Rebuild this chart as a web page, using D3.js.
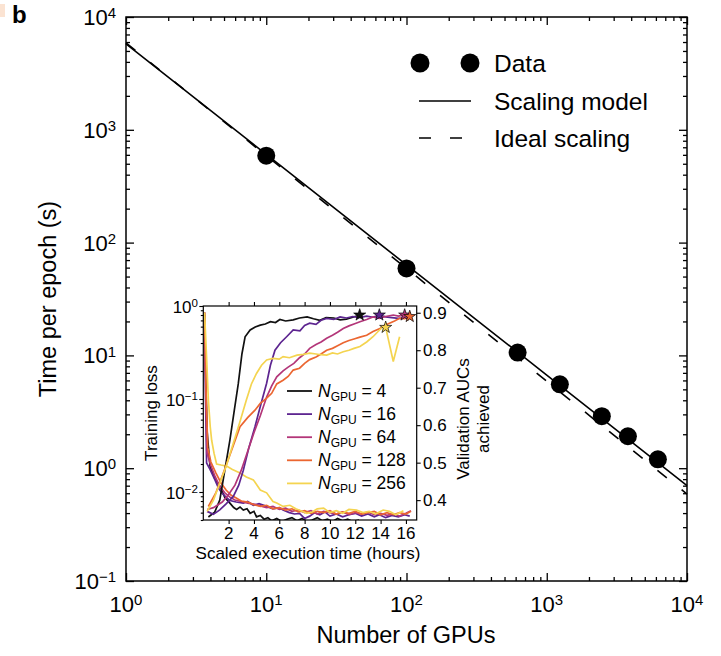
<!DOCTYPE html>
<html>
<head>
<meta charset="utf-8">
<script src="https://cdn.jsdelivr.net/npm/d3@7"></script>
<style>
body { margin: 0; background: #fff; }
svg { display: block; font-family: "Liberation Sans", Arial, sans-serif; }
</style>
</head>
<body>
<script>
// main panel: time per epoch vs number of GPUs
var gpus = [10, 100, 620, 1240, 2470, 3790, 6200];
var epochTime = [590, 59, 10.6, 5.54, 2.89, 1.92, 1.20];
var modelN = [1, 10, 100, 1000, 10000];
var modelT = [5770, 605, 63.5, 6.7, 0.70];
var idealN = [1, 10000];
var idealT = [5900, 0.59];
var mainDecades = [0.1, 1, 10, 100, 1000, 10000];

// inset: validation AUC and training loss vs scaled time (hours)
var gpuCounts = [4, 16, 64, 128, 256];
var auc4 = [[0.4,0.355],[0.9,0.368],[1.3,0.40],[1.7,0.48],[2.1,0.56],[2.45,0.64],[2.76,0.71],[3.05,0.79],[3.3,0.836],[3.7,0.854],[4.1,0.862],[4.5,0.867],[4.9,0.870],[5.3,0.876],[5.7,0.874],[6.05,0.882],[6.5,0.878],[7.1,0.881],[7.6,0.886],[8.2,0.889],[8.7,0.884],[9.2,0.880],[9.7,0.887],[10.3,0.886],[10.8,0.881],[11.3,0.883],[11.8,0.888],[12.35,0.894]];
var auc16 = [[0.3,0.37],[0.8,0.362],[1.3,0.374],[1.8,0.39],[2.37,0.41],[2.8,0.44],[3.16,0.48],[3.6,0.54],[4.08,0.596],[4.5,0.65],[5.0,0.712],[5.3,0.76],[5.66,0.80],[6.1,0.82],[6.58,0.836],[7.1,0.854],[7.63,0.852],[8.0,0.866],[8.4,0.872],[8.9,0.869],[9.3,0.88],[9.74,0.885],[10.3,0.882],[10.8,0.889],[11.3,0.886],[11.8,0.89],[12.3,0.887],[12.9,0.891],[13.4,0.888],[13.9,0.894],[14.4,0.889],[14.9,0.887],[15.4,0.885],[15.9,0.886],[16.3,0.885]];
var auc64 = [[0.3,0.375],[0.8,0.38],[1.5,0.395],[2.0,0.415],[2.5,0.44],[3.0,0.48],[3.5,0.53],[4.0,0.58],[4.5,0.625],[5.0,0.675],[5.4,0.705],[5.8,0.729],[6.3,0.745],[6.7,0.755],[7.15,0.765],[7.6,0.78],[8.0,0.79],[8.4,0.805],[8.9,0.815],[9.3,0.822],[9.74,0.832],[10.2,0.84],[10.6,0.848],[11.05,0.858],[11.5,0.865],[11.9,0.87],[12.37,0.876],[12.9,0.882],[13.4,0.889],[13.9,0.885],[14.4,0.89],[15.0,0.894],[15.4,0.891],[15.9,0.894],[16.3,0.89]];
var auc128 = [[0.4,0.383],[1.0,0.42],[1.58,0.472],[2.2,0.53],[2.9,0.596],[3.5,0.62],[4.08,0.64],[4.5,0.658],[5.0,0.672],[5.4,0.685],[5.8,0.71],[6.3,0.72],[6.7,0.73],[7.1,0.747],[7.6,0.752],[8.0,0.765],[8.4,0.775],[8.9,0.782],[9.3,0.79],[9.74,0.80],[10.2,0.805],[10.6,0.812],[11.05,0.82],[11.5,0.826],[11.9,0.83],[12.37,0.835],[12.9,0.84],[13.4,0.85],[13.95,0.858],[14.3,0.866],[14.7,0.872],[15.1,0.878],[15.5,0.885],[15.9,0.884],[16.3,0.889]];
var auc256 = [[0.3,0.37],[0.8,0.40],[1.3,0.445],[1.8,0.49],[2.37,0.552],[2.9,0.61],[3.4,0.667],[3.8,0.71],[4.2,0.738],[4.6,0.76],[5.0,0.774],[5.5,0.778],[6.0,0.776],[6.3,0.783],[6.8,0.78],[7.4,0.787],[7.9,0.789],[8.4,0.792],[8.9,0.79],[9.3,0.788],[9.74,0.787],[10.2,0.793],[10.6,0.79],[11.05,0.796],[11.5,0.80],[11.9,0.805],[12.37,0.81],[12.9,0.822],[13.4,0.836],[13.8,0.85],[14.2,0.863],[14.4,0.861],[15.0,0.77],[15.5,0.836]];
var loss4 = [[0.1,0.8],[0.2,0.15],[0.3,0.045],[0.53,0.019],[0.9,0.014],[1.32,0.0115],[1.7,0.0087],[2.1,0.0076],[2.4,0.0068],[2.63,0.0065],[2.9,0.0069],[3.16,0.0064],[3.45,0.0066],[3.7,0.0059],[4.0,0.0062],[4.2,0.0054],[4.5,0.0056],[4.8,0.0051],[5.1,0.0053],[5.4,0.0049],[5.8,0.0052],[6.2,0.0048],[6.6,0.0051],[7.0,0.0053],[7.4,0.0049],[7.8,0.0052],[8.2,0.0048],[8.6,0.0050],[9.0,0.0053],[9.4,0.0049],[9.8,0.0051],[10.2,0.0048],[10.6,0.0052],[11.0,0.0049],[11.4,0.0051],[11.8,0.0048],[12.3,0.0050]];
var loss16 = [[0.1,0.85],[0.18,0.1],[0.26,0.0205],[0.53,0.0175],[0.92,0.0135],[1.2,0.011],[1.45,0.0098],[1.8,0.0088],[2.1,0.0081],[2.6,0.0078],[3.16,0.0076],[3.5,0.0079],[3.95,0.0072],[4.4,0.0075],[5.0,0.0070],[5.5,0.0066],[6.0,0.0068],[6.3,0.0064],[6.8,0.0060],[7.2,0.0058],[7.6,0.0059],[8.0,0.0052],[8.4,0.0055],[8.8,0.0060],[9.2,0.0057],[9.6,0.0061],[10.0,0.0055],[10.5,0.0058],[11.0,0.0054],[11.5,0.0057],[12.0,0.0059],[12.5,0.0055],[13.0,0.0058],[13.5,0.0054],[13.9,0.0057],[14.4,0.0053],[14.9,0.0056],[15.4,0.0054],[15.9,0.0057],[16.3,0.0055]];
var loss64 = [[0.1,0.85],[0.2,0.09],[0.3,0.026],[0.55,0.02],[0.9,0.015],[1.3,0.0115],[1.7,0.0098],[2.1,0.0088],[2.5,0.0082],[3.0,0.0079],[3.5,0.0076],[4.0,0.0074],[4.5,0.0071],[5.0,0.0068],[5.5,0.0070],[6.0,0.0065],[6.5,0.0067],[7.0,0.0062],[7.5,0.0064],[8.0,0.0060],[8.5,0.0063],[9.0,0.0058],[9.5,0.0062],[10.0,0.0060],[10.5,0.0058],[11.0,0.0061],[11.5,0.0057],[12.0,0.0060],[12.5,0.0058],[13.0,0.0061],[13.5,0.0057],[14.0,0.0059],[14.5,0.0056],[15.0,0.0058],[15.5,0.0055],[16.0,0.0059],[16.4,0.0063]];
var loss128 = [[0.1,0.85],[0.22,0.12],[0.35,0.03],[0.6,0.021],[1.0,0.016],[1.4,0.0125],[1.8,0.0105],[2.2,0.0092],[2.6,0.0086],[3.0,0.0080],[3.5,0.0078],[4.0,0.0073],[4.5,0.0070],[5.0,0.0072],[5.5,0.0066],[6.0,0.0068],[6.5,0.0064],[7.0,0.0066],[7.5,0.0061],[8.0,0.0063],[8.5,0.0059],[9.0,0.0062],[9.5,0.0060],[10.0,0.0063],[10.5,0.0058],[11.0,0.0061],[11.5,0.0059],[12.0,0.0062],[12.5,0.0058],[13.0,0.0060],[13.5,0.0062],[14.0,0.0057],[14.5,0.0060],[15.0,0.0057],[15.5,0.0060],[16.0,0.0058],[16.4,0.0062]];
var loss256 = [[0.1,0.85],[0.25,0.3],[0.4,0.098],[0.55,0.05],[0.66,0.036],[0.85,0.026],[1.05,0.020],[1.4,0.0195],[1.84,0.019],[2.3,0.0175],[2.9,0.016],[3.4,0.0145],[3.95,0.0135],[4.5,0.0105],[5.0,0.0098],[5.5,0.0079],[5.8,0.0076],[6.3,0.0070],[6.84,0.0072],[7.3,0.0066],[7.8,0.0062],[8.16,0.0059],[8.6,0.0061],[9.0,0.0066],[9.5,0.0067],[10.0,0.0060],[10.5,0.0063],[11.0,0.0059],[11.5,0.0065],[12.1,0.0064],[12.6,0.0060],[13.1,0.0062],[13.6,0.0058],[14.2,0.0064],[14.7,0.0062],[15.2,0.0057],[15.8,0.0063]];
var bestTime = [12.35, 13.9, 15.9, 16.3, 14.4];
var bestAuc = [0.894, 0.894, 0.894, 0.89, 0.861];
var insetHours = [2, 4, 6, 8, 10, 12, 14, 16];
var insetAucTicks = [0.4, 0.5, 0.6, 0.7, 0.8, 0.9];
var insetLossDecades = [0.01, 0.1, 1];

var aucRuns = [auc4, auc16, auc64, auc128, auc256];
var lossRuns = [loss4, loss16, loss64, loss128, loss256];
var runColors = ['#111111', '#5d2590', '#b33679', '#eb6631', '#f4d450'];

var W = 721, H = 656;
var svg = d3.select('body').append('svg').attr('width', W).attr('height', H);

var font = 22;

function sup(sel, e) {
	sel.append('tspan').text('10');
	sel.append('tspan').attr('dy', '-0.45em').attr('font-size', '0.68em')
		.text(e < 0 ? '\u2212' + (-e) : e);
}

function minors(decades) {
	var out = [];
	decades.slice(0, -1).forEach(function(d) {
		for (var m = 2; m < 10; m++) out.push(d * m);
	});
	return out;
}

// small peach corner mark and panel letter
svg.append('rect').attr('x', 0).attr('y', 4).attr('width', 5).attr('height', 13).attr('fill', '#fbe3d2');
svg.append('text').attr('x', 12).attr('y', 23).attr('font-size', 24).attr('font-weight', 'bold').text('b');

// ---------- main panel ----------
var x = d3.scaleLog().domain([1, 10000]).range([126, 687]);
var y = d3.scaleLog().domain([0.1, 10000]).range([581, 17]);
var xDecades = [1, 10, 100, 1000, 10000];

var axes = svg.append('g').attr('stroke-width', 1.3);
axes.append('g').attr('transform', 'translate(0,581)')
	.call(d3.axisBottom(x).tickValues(xDecades).tickSize(-8).tickFormat('').tickSizeOuter(0));
axes.append('g').attr('transform', 'translate(0,581)')
	.call(d3.axisBottom(x).tickValues(minors(xDecades)).tickSize(-4).tickFormat('').tickSizeOuter(0));
axes.append('g').attr('transform', 'translate(0,17)')
	.call(d3.axisTop(x).tickValues(xDecades).tickSize(-8).tickFormat('').tickSizeOuter(0));
axes.append('g').attr('transform', 'translate(0,17)')
	.call(d3.axisTop(x).tickValues(minors(xDecades)).tickSize(-4).tickFormat('').tickSizeOuter(0));
axes.append('g').attr('transform', 'translate(126,0)')
	.call(d3.axisLeft(y).tickValues(mainDecades).tickSize(-8).tickFormat('').tickSizeOuter(0));
axes.append('g').attr('transform', 'translate(126,0)')
	.call(d3.axisLeft(y).tickValues(minors(mainDecades)).tickSize(-4).tickFormat('').tickSizeOuter(0));
axes.append('g').attr('transform', 'translate(687,0)')
	.call(d3.axisRight(y).tickValues(mainDecades).tickSize(-8).tickFormat('').tickSizeOuter(0));
axes.append('g').attr('transform', 'translate(687,0)')
	.call(d3.axisRight(y).tickValues(minors(mainDecades)).tickSize(-4).tickFormat('').tickSizeOuter(0));
axes.selectAll('.domain').remove();
axes.selectAll('line').attr('stroke', '#000');
svg.append('rect').attr('x', 126).attr('y', 17).attr('width', 561).attr('height', 564)
	.attr('fill', 'none').attr('stroke', '#000').attr('stroke-width', 1.5);

xDecades.forEach(function(v) {
	svg.append('text').attr('x', x(v)).attr('y', 612).attr('text-anchor', 'middle')
		.attr('font-size', font).call(sup, Math.round(Math.log10(v)));
});
mainDecades.forEach(function(v) {
	svg.append('text').attr('x', 116).attr('y', y(v) + 8).attr('text-anchor', 'end')
		.attr('font-size', font).call(sup, Math.round(Math.log10(v)));
});
svg.append('text').attr('x', 406).attr('y', 643).attr('text-anchor', 'middle')
	.attr('font-size', 23.5).text('Number of GPUs');
svg.append('text').attr('transform', 'translate(56,299) rotate(-90)').attr('text-anchor', 'middle')
	.attr('font-size', 23.5).text('Time per epoch (s)');

var mainLine = d3.line().x(function(d) { return x(d[0]); }).y(function(d) { return y(d[1]); });
svg.append('path').datum(d3.zip(idealN, idealT)).attr('d', mainLine)
	.attr('fill', 'none').attr('stroke', '#000').attr('stroke-width', 1.6).attr('stroke-dasharray', '12,19');
svg.append('path').datum(d3.zip(modelN, modelT)).attr('d', mainLine)
	.attr('fill', 'none').attr('stroke', '#000').attr('stroke-width', 1.6);
svg.selectAll('circle.data').data(d3.zip(gpus, epochTime)).enter().append('circle')
	.attr('class', 'data').attr('cx', function(d) { return x(d[0]); }).attr('cy', function(d) { return y(d[1]); })
	.attr('r', 9).attr('fill', '#000');

// main legend
var lg = svg.append('g').attr('font-size', 24.5);
lg.append('circle').attr('cx', 420).attr('cy', 63).attr('r', 9.5);
lg.append('circle').attr('cx', 470).attr('cy', 63).attr('r', 9.5);
lg.append('text').attr('x', 494).attr('y', 72).text('Data');
lg.append('line').attr('x1', 419).attr('x2', 471).attr('y1', 101).attr('y2', 101).attr('stroke', '#000').attr('stroke-width', 1.6);
lg.append('text').attr('x', 494).attr('y', 110).text('Scaling model');
lg.append('line').attr('x1', 419).attr('x2', 471).attr('y1', 138).attr('y2', 138).attr('stroke', '#000').attr('stroke-width', 1.6).attr('stroke-dasharray', '12,19');
lg.append('text').attr('x', 494).attr('y', 147).text('Ideal scaling');

// ---------- inset ----------
var L = 203.3, R = 416.7, T = 306, B = 520;
var ix = d3.scaleLinear().domain([0, 16.85]).range([L, R]);
var iyLoss = d3.scaleLog().domain([0.005, 1]).range([B, T]);
var iyAuc = d3.scaleLinear().domain([0.347, 0.918]).range([B, T]);
var ifont = 17;

svg.append('rect').attr('x', L).attr('y', T).attr('width', R - L).attr('height', B - T).attr('fill', '#fff');
svg.append('clipPath').attr('id', 'insetClip').append('rect')
	.attr('x', L).attr('y', T).attr('width', R - L).attr('height', B - T);

var ia = svg.append('g').attr('stroke-width', 1.1);
ia.append('g').attr('transform', 'translate(0,' + B + ')')
	.call(d3.axisBottom(ix).tickValues(insetHours).tickSize(4).tickFormat('').tickSizeOuter(0));
ia.append('g').attr('transform', 'translate(0,' + T + ')')
	.call(d3.axisTop(ix).tickValues(insetHours).tickSize(4).tickFormat('').tickSizeOuter(0));
ia.append('g').attr('transform', 'translate(' + L + ',0)')
	.call(d3.axisLeft(iyLoss).tickValues(insetLossDecades).tickSize(4).tickFormat('').tickSizeOuter(0));
ia.append('g').attr('transform', 'translate(' + L + ',0)')
	.call(d3.axisLeft(iyLoss).tickValues(minors([0.001, 0.01, 0.1, 1]).filter(function(v) { return v >= 0.005; }))
		.tickSize(2.5).tickFormat('').tickSizeOuter(0));
ia.append('g').attr('transform', 'translate(' + R + ',0)')
	.call(d3.axisRight(iyAuc).tickValues(insetAucTicks).tickSize(4).tickFormat('').tickSizeOuter(0));
ia.selectAll('.domain').remove();
ia.selectAll('line').attr('stroke', '#000');

var aucLine = d3.line().x(function(d) { return ix(d[0]); }).y(function(d) { return iyAuc(d[1]); });
var lossLine = d3.line().x(function(d) { return ix(d[0]); }).y(function(d) { return iyLoss(d[1]); });
var curves = svg.append('g').attr('clip-path', 'url(#insetClip)');
lossRuns.forEach(function(run, i) {
	curves.append('path').datum(run).attr('d', lossLine)
		.attr('fill', 'none').attr('stroke', runColors[i]).attr('stroke-width', 1.7);
});
aucRuns.forEach(function(run, i) {
	curves.append('path').datum(run).attr('d', aucLine)
		.attr('fill', 'none').attr('stroke', runColors[i]).attr('stroke-width', 1.7);
});
var star = d3.symbol().type(d3.symbolStar).size(45);
gpuCounts.forEach(function(n, i) {
	svg.append('path').attr('d', star)
		.attr('transform', 'translate(' + ix(bestTime[i]) + ',' + iyAuc(bestAuc[i]) + ')')
		.attr('fill', runColors[i]).attr('stroke', '#000').attr('stroke-width', 0.7);
});

svg.append('rect').attr('x', L).attr('y', T).attr('width', R - L).attr('height', B - T)
	.attr('fill', 'none').attr('stroke', '#000').attr('stroke-width', 1.2);

insetHours.forEach(function(h) {
	svg.append('text').attr('x', ix(h)).attr('y', 539).attr('text-anchor', 'middle')
		.attr('font-size', ifont).text(h);
});
insetLossDecades.forEach(function(v) {
	svg.append('text').attr('x', 198).attr('y', iyLoss(v) + 6.5).attr('text-anchor', 'end')
		.attr('font-size', ifont).call(sup, Math.round(Math.log10(v)));
});
insetAucTicks.forEach(function(v) {
	svg.append('text').attr('x', 423).attr('y', iyAuc(v) + 6).attr('font-size', ifont).text(v.toFixed(1));
});
svg.append('text').attr('x', 308).attr('y', 559).attr('text-anchor', 'middle')
	.attr('font-size', ifont).text('Scaled execution time (hours)');
svg.append('text').attr('transform', 'translate(157,413) rotate(-90)').attr('text-anchor', 'middle')
	.attr('font-size', ifont).text('Training loss');
svg.append('text').attr('transform', 'translate(469,419) rotate(-90)').attr('text-anchor', 'middle')
	.attr('font-size', ifont).text('Validation AUCs');
svg.append('text').attr('transform', 'translate(489,419) rotate(-90)').attr('text-anchor', 'middle')
	.attr('font-size', ifont).text('achieved');

// inset legend
gpuCounts.forEach(function(n, i) {
	var yy = 391 + i * 23.1;
	svg.append('line').attr('x1', 287).attr('x2', 312).attr('y1', yy).attr('y2', yy)
		.attr('stroke', runColors[i]).attr('stroke-width', 1.8);
	var t = svg.append('text').attr('x', 318).attr('y', yy + 6).attr('font-size', 17.5);
	t.append('tspan').attr('font-style', 'italic').text('N');
	t.append('tspan').attr('font-size', 12).attr('dy', 4).text('GPU');
	t.append('tspan').attr('dy', -4).text(' = ' + n);
});
</script>
</body>
</html>
